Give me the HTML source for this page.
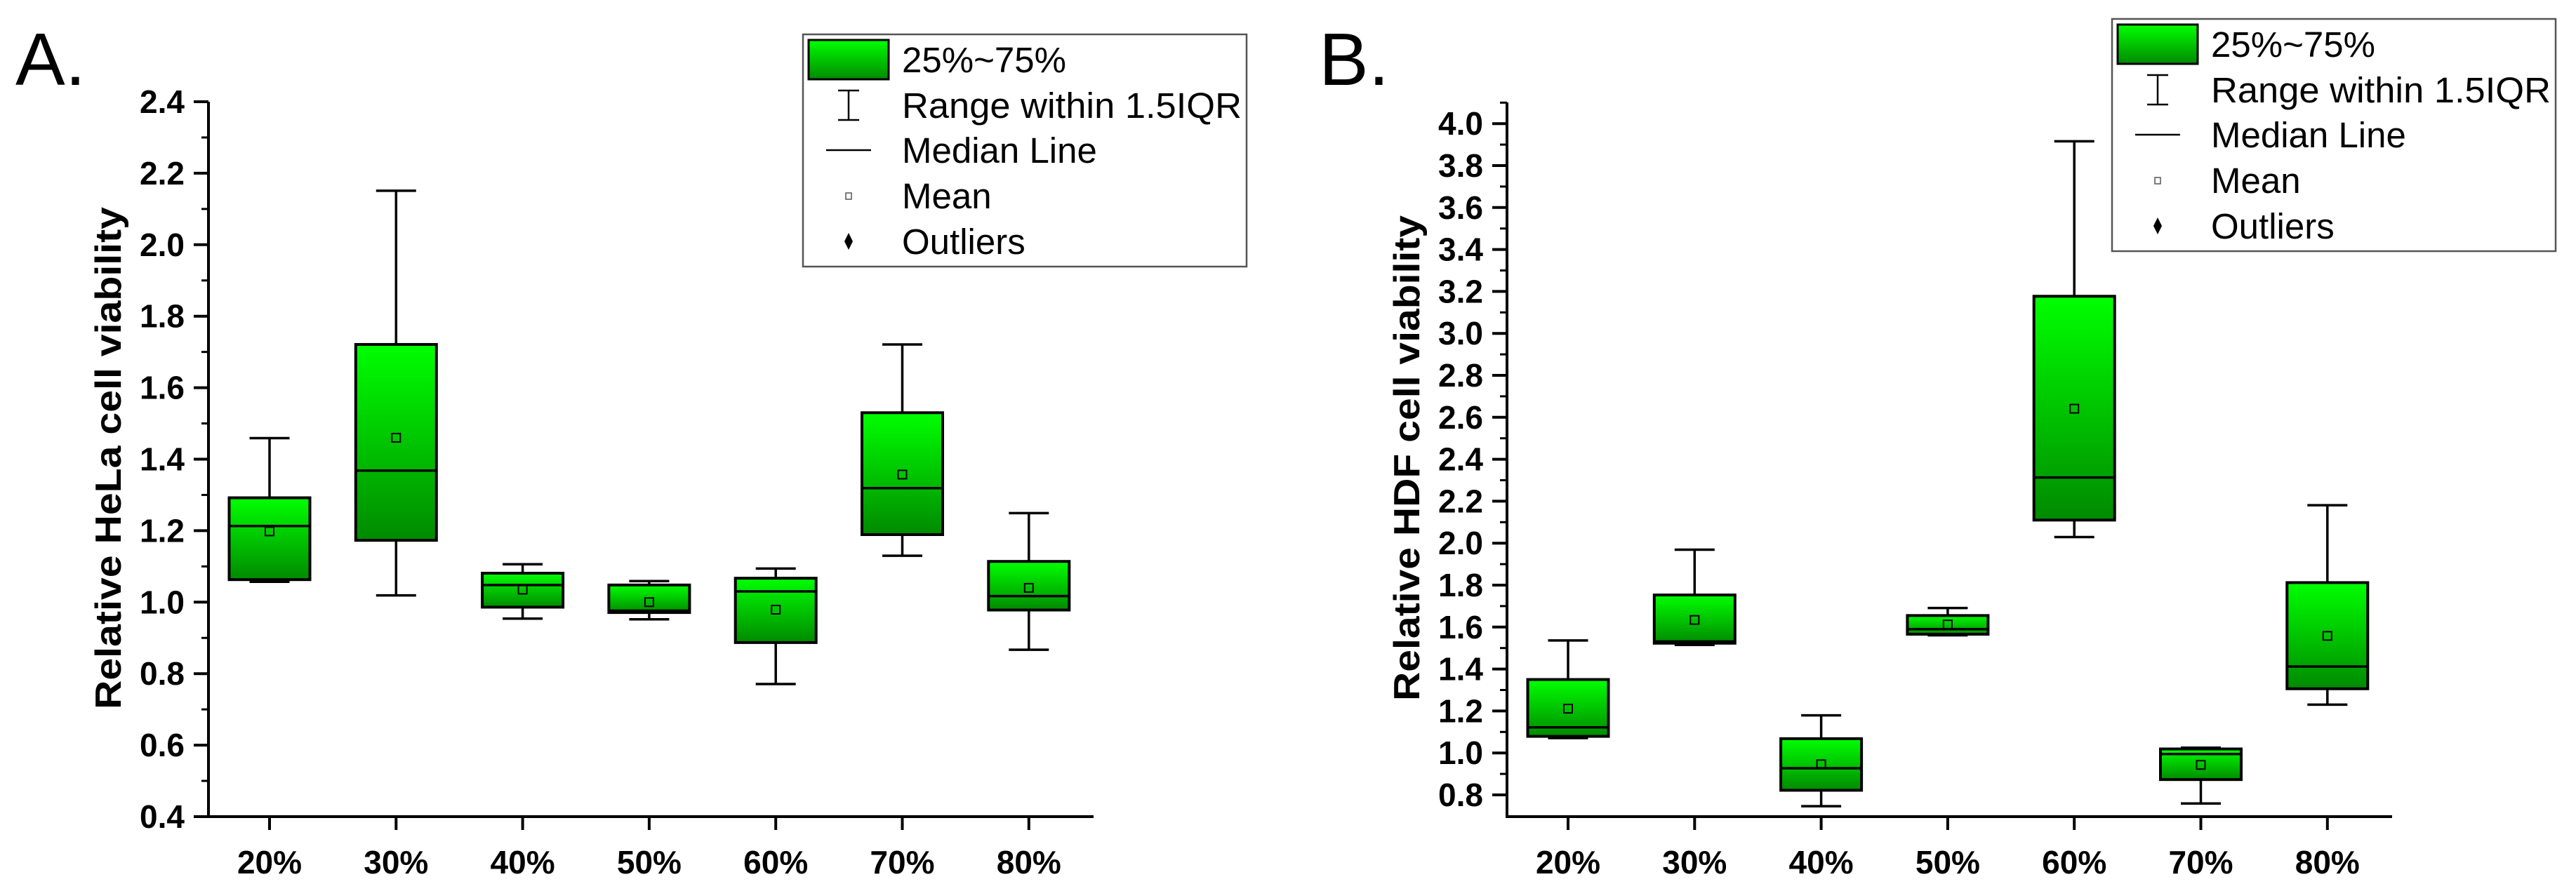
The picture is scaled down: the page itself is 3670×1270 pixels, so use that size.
<!DOCTYPE html>
<html><head><meta charset="utf-8"><style>
html,body{margin:0;padding:0;background:#fff;}
svg{display:block;font-family:"Liberation Sans",Arial,sans-serif;}
</style></head><body>
<svg id="fig" width="3670" height="1270" viewBox="0 0 3670 1270" xmlns="http://www.w3.org/2000/svg">
<defs>
<linearGradient id="g" x1="0" y1="0" x2="0" y2="1">
<stop offset="0" stop-color="#00ff00"/><stop offset="1" stop-color="#008a00"/>
</linearGradient>
</defs>
</svg>
<script>
const categories = ["20%","30%","40%","50%","60%","70%","80%"];
// Panel A (HeLa)
const aWhiskerHigh = [1.459,2.151,1.106,1.059,1.094,1.721,1.249];
const aQ3 = [1.292,1.721,1.081,1.048,1.067,1.530,1.114];
const aMedian = [1.213,1.368,1.048,0.976,1.030,1.319,1.017];
const aMean = [1.198,1.460,1.035,1.000,0.979,1.357,1.040];
const aQ1 = [1.063,1.173,0.986,0.971,0.887,1.189,0.978];
const aWhiskerLow = [1.057,1.019,0.954,0.952,0.771,1.130,0.867];
const aTicks = ["0.4","0.6","0.8","1.0","1.2","1.4","1.6","1.8","2.0","2.2","2.4"];
// Panel B (HDF)
const bWhiskerHigh = [1.536,1.969,1.179,1.691,3.916,1.025,2.181];
const bQ3 = [1.350,1.753,1.068,1.655,3.177,1.019,1.812];
const bMedian = [1.122,1.531,0.927,1.590,2.313,0.995,1.412];
const bMean = [1.211,1.634,0.946,1.612,2.641,0.943,1.558];
const bQ1 = [1.079,1.523,0.822,1.566,2.110,0.873,1.306];
const bWhiskerLow = [1.071,1.515,0.746,1.561,2.029,0.759,1.230];
const bTicks = ["0.8","1.0","1.2","1.4","1.6","1.8","2.0","2.2","2.4","2.6","2.8","3.0","3.2","3.4","3.6","3.8","4.0"];
const legendLabels = ["25%~75%","Range within 1.5IQR","Median Line","Mean","Outliers"];

const NS="http://www.w3.org/2000/svg";
const svg=document.getElementById('fig');
function mk(tag,attrs,parent){const e=document.createElementNS(NS,tag);for(const k in attrs)e.setAttribute(k,attrs[k]);(parent||svg).appendChild(e);return e;}

function panel(o){
  const g=mk('g',{});
  
  
  const y=v=>o.yBase-(v-o.vBase)*o.ppu;
  const x=i=>o.x0+i*o.step;
  const L=mk('text',{x:o.letterX,y:121,'font-size':106},g);L.textContent=o.letter;
  
  
  const ya=mk('line',{x1:o.ax,y1:o.axTop,x2:o.ax,y2:o.axBot+2,stroke:'#000','stroke-width':4},g);
  
  
  const xa=mk('line',{x1:o.ax-2,y1:o.axBot,x2:o.axEnd,y2:o.axBot,stroke:'#000','stroke-width':4},g);
  
  
  for(let v=o.minorStart;v<=o.minorEnd+1e-9;v+=0.1){
    mk('line',{x1:o.ax-10,y1:y(v),x2:o.ax,y2:y(v),stroke:'#000','stroke-width':3},g);
  }
  o.ticks.forEach(t=>{
    const v=parseFloat(t);
    mk('line',{x1:o.ax-21,y1:y(v),x2:o.ax,y2:y(v),stroke:'#000','stroke-width':4},g);
    const tx=mk('text',{x:o.ax-34,y:y(v)+16,'font-size':46,'font-weight':'bold','text-anchor':'end'},g);
    tx.textContent=t;
    
    
  });
  const tt=mk('text',{x:0,y:0,'font-size':52,'font-weight':'bold','text-anchor':'middle',transform:`translate(${o.ax-125},653) rotate(-90)`,textLength:o.titleLen,lengthAdjust:'spacingAndGlyphs'},g);
  tt.textContent=o.title;
  
  
  categories.forEach((c,i)=>{
    mk('line',{x1:x(i),y1:o.axBot,x2:x(i),y2:o.axBot+19,stroke:'#000','stroke-width':4},g);
    const t=mk('text',{x:x(i),y:1245,'font-size':46,'font-weight':'bold','text-anchor':'middle'},g);
    t.textContent=c;
    
    
    const bg=mk('g',{},g);
    
    
    const hw=57.5,cw=28.5;
    mk('line',{x1:x(i),y1:y(o.wh[i]),x2:x(i),y2:y(o.q3[i]),stroke:'#000','stroke-width':3.5},bg);
    mk('line',{x1:x(i),y1:y(o.q1[i]),x2:x(i),y2:y(o.wl[i]),stroke:'#000','stroke-width':3.5},bg);
    mk('line',{x1:x(i)-cw,y1:y(o.wh[i]),x2:x(i)+cw,y2:y(o.wh[i]),stroke:'#000','stroke-width':3.5},bg);
    mk('line',{x1:x(i)-cw,y1:y(o.wl[i]),x2:x(i)+cw,y2:y(o.wl[i]),stroke:'#000','stroke-width':3.5},bg);
    mk('rect',{x:x(i)-hw,y:y(o.q3[i]),width:2*hw,height:y(o.q1[i])-y(o.q3[i]),fill:'url(#g)',stroke:'#000','stroke-width':4},bg);
    mk('line',{x1:x(i)-hw,y1:y(o.med[i]),x2:x(i)+hw,y2:y(o.med[i]),stroke:'#000','stroke-width':3.5},bg);
    mk('rect',{x:x(i)-6,y:y(o.mean[i])-6,width:12,height:12,fill:'none',stroke:'#000','stroke-width':2},bg);
  });
  const lg=mk('g',{},g);
  
  
  const lx=o.legX,ly=o.legY;
  mk('rect',{x:lx,y:ly,width:632,height:331,fill:'#fff',stroke:'#555','stroke-width':2.5},lg);
  mk('rect',{x:lx+8,y:ly+8,width:114,height:56,fill:'url(#g)',stroke:'#000','stroke-width':3},lg);
  const cx=lx+65;
  mk('line',{x1:cx,y1:ly+80,x2:cx,y2:ly+122,stroke:'#000','stroke-width':2.5},lg);
  mk('line',{x1:cx-15,y1:ly+80,x2:cx+15,y2:ly+80,stroke:'#000','stroke-width':2.5},lg);
  mk('line',{x1:cx-15,y1:ly+122,x2:cx+15,y2:ly+122,stroke:'#000','stroke-width':2.5},lg);
  mk('line',{x1:cx-32,y1:ly+165,x2:cx+32,y2:ly+165,stroke:'#000','stroke-width':2.5},lg);
  mk('rect',{x:cx-4,y:ly+226,width:8,height:9,fill:'none',stroke:'#555','stroke-width':1.5},lg);
  mk('path',{d:`M${cx} ${ly+283} L${cx+6} ${ly+295} L${cx} ${ly+307} L${cx-6} ${ly+295}Z`,fill:'#000'},lg);
  const rows=[36,101,165,230,295];
  legendLabels.forEach((s,k)=>{
    const t=mk('text',{x:lx+141,y:ly+rows[k]+18,'font-size':51},lg);
    t.textContent=s;
    if(k===1){t.setAttribute('textLength',484);t.setAttribute('lengthAdjust','spacingAndGlyphs');}
    
    
  });
}

panel({name:'panel-a-hela',letter:'A.',letterX:22,ax:297,axEnd:1558,axTop:145,axBot:1164,
  yBase:1164,vBase:0.4,ppu:509.5,x0:384,step:180.3,minorStart:0.4,minorEnd:2.4,ticks:aTicks,
  title:'Relative HeLa cell viability',titleLen:716,
  wh:aWhiskerHigh,q3:aQ3,med:aMedian,mean:aMean,q1:aQ1,wl:aWhiskerLow,legX:1144,legY:49});
panel({name:'panel-b-hdf',letter:'B.',letterX:1879,ax:2147,axEnd:3408,axTop:146,axBot:1164,
  yBase:1133,vBase:0.8,ppu:299,x0:2234,step:180.3,minorStart:0.8,minorEnd:4.1,ticks:bTicks,
  title:'Relative HDF cell viability',titleLen:692,
  wh:bWhiskerHigh,q3:bQ3,med:bMedian,mean:bMean,q1:bQ1,wl:bWhiskerLow,legX:3009,legY:27});
</script>
</body></html>
